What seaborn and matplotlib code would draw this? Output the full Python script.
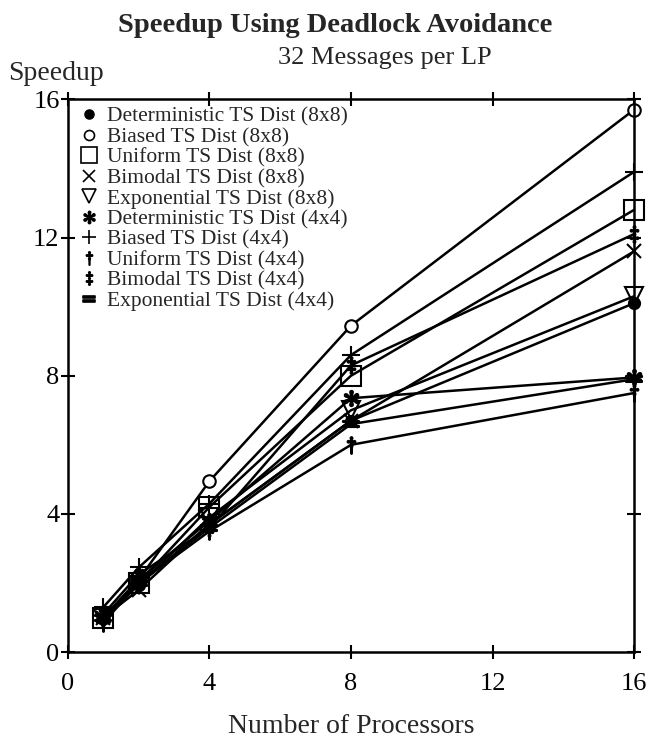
import matplotlib
matplotlib.use("Agg")
import matplotlib.pyplot as plt
import seaborn as sns
import pandas as pd
from matplotlib.lines import Line2D

sns.set_theme(style="white")
plt.rcParams['font.family'] = ['Liberation Serif', 'DejaVu Serif']
plt.rcParams['mathtext.fontset'] = 'stix'

processors = [1, 2, 4, 8, 16]
series_names = [
    "Deterministic TS Dist (8x8)",
    "Biased TS Dist (8x8)",
    "Uniform TS Dist (8x8)",
    "Bimodal TS Dist (8x8)",
    "Exponential TS Dist (8x8)",
    "Deterministic TS Dist (4x4)",
    "Biased TS Dist (4x4)",
    "Uniform TS Dist (4x4)",
    "Bimodal TS Dist (4x4)",
    "Exponential TS Dist (4x4)",
]
det_8x8 = [1.0, 1.95, 3.7, 6.7, 10.1]
biased_8x8 = [1.0, 2.1, 4.95, 9.45, 15.7]
uniform_8x8 = [1.0, 2.0, 4.2, 8.0, 12.8]
bimodal_8x8 = [1.0, 1.8, 3.7, 6.7, 11.6]
exp_8x8 = [1.0, 1.95, 3.9, 7.0, 10.3]
det_4x4 = [1.0, 2.1, 3.8, 7.35, 7.95]
biased_4x4 = [1.3, 2.45, 4.3, 8.6, 13.9]
uniform_4x4 = [0.85, 2.0, 3.5, 6.0, 7.5]
bimodal_4x4 = [1.1, 2.25, 3.6, 8.3, 12.1]
exp_4x4 = [1.0, 2.0, 3.6, 6.6, 7.9]
values = [det_8x8, biased_8x8, uniform_8x8, bimodal_8x8, exp_8x8,
          det_4x4, biased_4x4, uniform_4x4, bimodal_4x4, exp_4x4]
x_ticks = [0, 4, 8, 12, 16]
y_ticks = [0, 4, 8, 12, 16]

styles = [
    dict(marker='o', ms=8, mfc='black'),
    dict(marker='o', ms=9, mfc='white'),
    dict(marker='s', ms=14, mfc='none'),
    dict(marker='x', ms=10, mfc='black'),
    dict(marker='v', ms=13, mfc='none'),
    dict(marker='$*$', ms=11, mfc='black'),
    dict(marker='+', ms=13, mfc='black'),
    dict(marker='$\\dagger$', ms=12, mfc='black'),
    dict(marker='$\\ddagger$', ms=12, mfc='black'),
    dict(marker='$=$', ms=11, mfc='black'),
]

fig = plt.figure(figsize=(6.47, 7.47), dpi=100)
ax = fig.add_axes([0.105, 0.127, 0.875, 0.740])

for name, vals, st in zip(series_names, values, styles):
    df = pd.DataFrame({"Processors": processors, "Speedup": vals})
    sns.lineplot(data=df, x="Processors", y="Speedup", ax=ax, color='black',
                 linewidth=1.8, marker=st['marker'], markersize=st['ms'],
                 markerfacecolor=st['mfc'], markeredgecolor='black',
                 markeredgewidth=1.5, legend=False, clip_on=False)

ax.set_xlim(0, 16)
ax.set_ylim(0, 16)
ax.set_xticks(x_ticks)
ax.set_yticks(y_ticks)
ax.set_xlabel("Number of Processors", fontsize=20, labelpad=14)
ax.set_ylabel("")
for s in ax.spines.values():
    s.set_color('black')
    s.set_linewidth(1.8)
ax.tick_params(direction='inout', length=10, width=1.5, labelsize=19,
               top=True, right=True, bottom=True, left=True, colors='black')
ax.tick_params(axis='x', pad=10)
ax.tick_params(axis='y', pad=1)

handles = [Line2D([], [], linestyle='none', marker=st['marker'],
                  markersize=st['ms'] * 0.8, markerfacecolor=st['mfc'],
                  markeredgecolor='black', markeredgewidth=1.2)
           for st in styles]
leg = ax.legend(handles, series_names, loc='upper left', frameon=False,
                fontsize=15.5, handlelength=0.8, handletextpad=0.4,
                labelspacing=0.02, borderaxespad=0.2,
                bbox_to_anchor=(0.0, 1.01))

fig.text(0.518, 0.966, "Speedup Using Deadlock Avoidance", ha='center',
         va='center', fontsize=20.5, fontweight='bold')
fig.text(0.595, 0.922, "32 Messages per LP", ha='center', va='center',
         fontsize=19)
fig.text(0.012, 0.902, "Speedup", ha='left', va='center', fontsize=20)

fig.savefig("out.png", dpi=100)
